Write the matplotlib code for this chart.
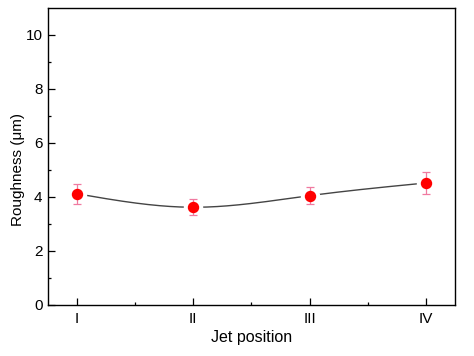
import numpy as np
import matplotlib
matplotlib.use("Agg")
import matplotlib.pyplot as plt

positions = ["I", "II", "III", "IV"]
roughness = [4.12, 3.62, 4.05, 4.52]
errors = [0.37, 0.29, 0.32, 0.42]

plt.rcParams['font.family'] = ['Liberation Sans', 'DejaVu Sans']

fig = plt.figure(figsize=(4.74, 3.56), dpi=100)
ax = fig.add_axes([48/474, 1-305/356, (455-48)/474, (305-8)/356])

x = np.arange(1, len(positions) + 1)
y = np.array(roughness)

# natural cubic spline through the data points (as in the original smooth connector)
n = len(x)
h = np.diff(x).astype(float)
A = np.zeros((n, n)); b = np.zeros(n)
A[0, 0] = 1; A[-1, -1] = 1
for i in range(1, n - 1):
    A[i, i-1] = h[i-1]; A[i, i] = 2*(h[i-1]+h[i]); A[i, i+1] = h[i]
    b[i] = 3*((y[i+1]-y[i])/h[i] - (y[i]-y[i-1])/h[i-1])
c = np.linalg.solve(A, b)
xs, ys = [], []
for i in range(n - 1):
    t = np.linspace(0, h[i], 60)
    bi = (y[i+1]-y[i])/h[i] - h[i]*(2*c[i]+c[i+1])/3
    di = (c[i+1]-c[i])/(3*h[i])
    xs.append(x[i] + t); ys.append(y[i] + bi*t + c[i]*t**2 + di*t**3)
xs = np.concatenate(xs); ys = np.concatenate(ys)

ax.plot(xs, ys, color='#444444', lw=1.0, zorder=1)
ax.plot(x, y, 'o', ms=13, color='white', mec='white', zorder=2)
ax.errorbar(x, y, yerr=errors, fmt='none', ecolor='#f07aa0', elinewidth=0.9,
            capsize=3, capthick=0.9, zorder=3)
ax.plot(x, y, 'o', ms=7.2, color='#ff0000', mec='#ff0000', zorder=4)

ax.set_xlim(0.75, 4.25)
ax.set_ylim(0, 11)
ax.set_xticks(x)
ax.set_xticklabels(positions)
ax.set_xticks(np.arange(1.5, 4.0, 1.0), minor=True)
ax.set_yticks(np.arange(0, 11, 2))
ax.set_yticks(np.arange(1, 11, 2), minor=True)
ax.tick_params(which='both', direction='in', labelsize=11, width=0.9, pad=4)
ax.tick_params(axis='x', which='both', pad=5)
ax.tick_params(which='major', length=5)
ax.tick_params(which='minor', length=2.5)
ax.tick_params(axis='both', which='both', top=False, right=False)
for s in ax.spines.values():
    s.set_linewidth(1.0)
ax.set_xlabel('Jet position', fontsize=11.5, labelpad=3)
ax.set_ylabel('Roughness (μm)', fontsize=11)
ax.yaxis.set_label_coords(-0.056, 0.455)

fig.savefig('out.png', dpi=100)
